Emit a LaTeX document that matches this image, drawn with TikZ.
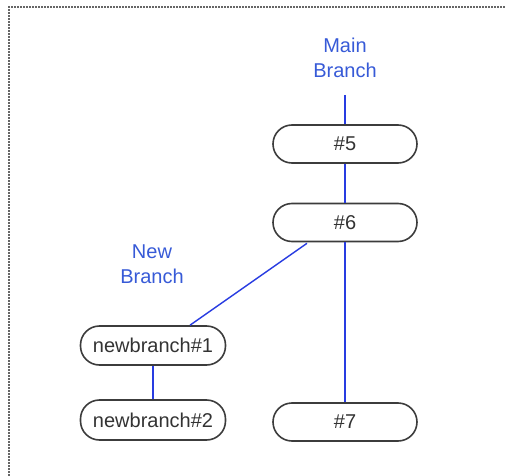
\documentclass[tikz,border=0pt]{standalone}
\usepackage{fontspec}
\setmainfont{Liberation Sans}
\usetikzlibrary{calc}
\definecolor{lblblue}{RGB}{55,90,215}
\definecolor{lineblue}{RGB}{40,60,225}
\definecolor{boxgray}{RGB}{60,60,60}
\tikzset{
  commit/.style={draw=boxgray, line width=1.6pt, rounded corners=19pt, minimum width=144pt, minimum height=38pt, inner sep=0pt, font=\fontsize{20}{24}\selectfont, text=black!80},
  branchlabel/.style={align=center, text=lblblue, font=\fontsize{20}{25.5}\selectfont},
  link/.style={draw=lineblue, line width=1.4pt}
}
\begin{document}
\begin{tikzpicture}[x=1pt,y=-1pt]
\useasboundingbox (0,0) rectangle (506,476);
\draw[black!60, line width=2pt, dash pattern=on 2pt off 1pt] (9,476) -- (9,7) -- (506,7);
\node[branchlabel] (mainlbl) at (345,58) {Main\\Branch};
\coordinate (mtop) at (345,95);
\node[commit] (n5) at (345,144) {\#5};
\node[commit] (n6) at (345,222.5) {\#6};
\node[commit] (n7) at (345,422) {\#7};
\node[branchlabel] (newlbl) at (152,264) {New\\Branch};
\node[commit, minimum width=145pt, minimum height=39pt] (nb1) at (153,345.5) {newbranch\#1};
\node[commit, minimum width=145pt, minimum height=40pt] (nb2) at (153,420) {newbranch\#2};
\draw[link] (mtop) -- (n5.north);
\draw[link] (n5.south) -- (n6.north);
\draw[link] (n6.south) -- (n7.north);
\draw[link] ($(n6.south)+(-38,1)$) -- ($(nb1.north)+(37,0)$);
\draw[link] (nb1.south) -- (nb2.north);
\end{tikzpicture}
\end{document}
